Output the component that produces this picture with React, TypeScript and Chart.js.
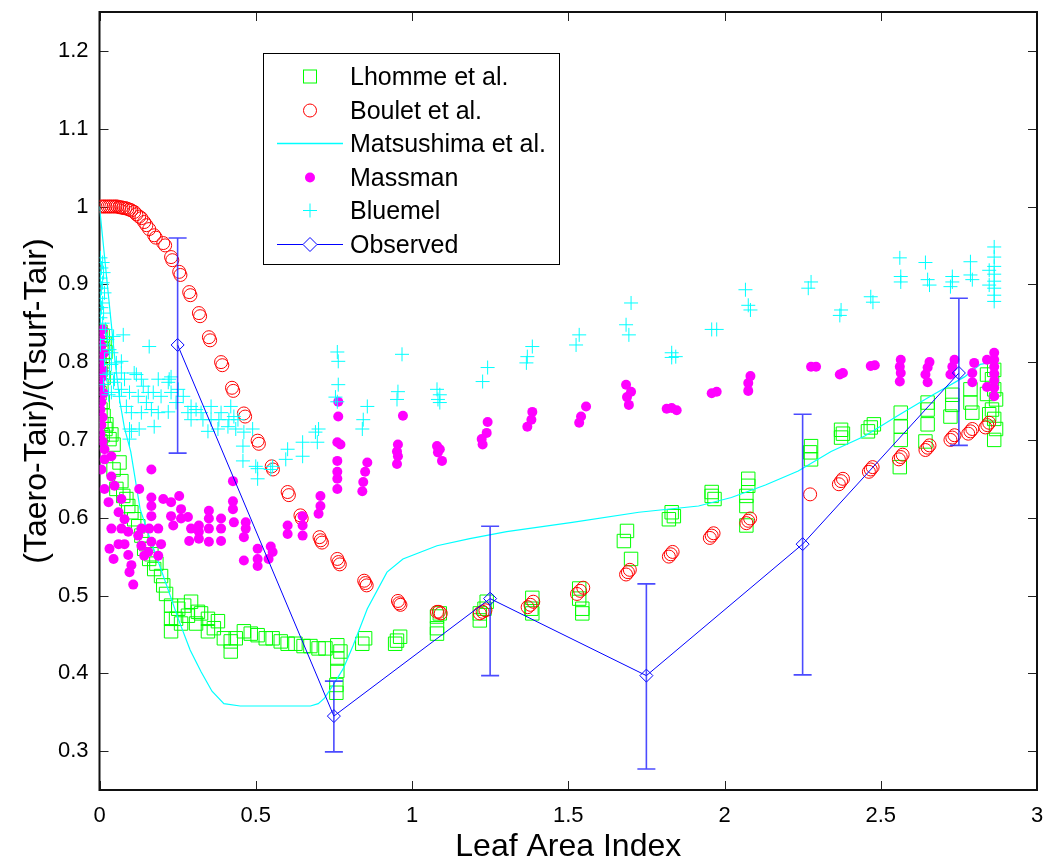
import React, { useEffect, useRef } from "react";
import { Chart, registerables } from "chart.js";

Chart.register(...registerables);

const FONT = "'Liberation Sans', Arial, Helvetica, sans-serif";
const GREEN = "#00ff00";
const RED = "#ff0000";
const CYAN = "#00ffff";
const MAGENTA = "#ff00ff";
const BLUE = "#0000ff";
const ERR_BLUE = "rgba(30,30,255,0.8)";

const xTicks = [0, 0.5, 1, 1.5, 2, 2.5, 3];
const yTicks = [0.3, 0.4, 0.5, 0.6, 0.7, 0.8, 0.9, 1.0, 1.1, 1.2];

type P = [number, number];

const lhomme: P[] = [
  [0.003,0.839],[0.010,0.834],[0.003,0.829],[0.016,0.824],[0.006,0.818],[0.019,0.813],[0.000,0.808],[0.010,0.801],
  [0.003,0.790],[0.013,0.780],[0.006,0.770],[0.000,0.760],[0.010,0.749],[0.003,0.739],[0.013,0.731],[0.006,0.721],
  [0.019,0.714],[0.010,0.706],[0.003,0.698],[0.022,0.720],[0.038,0.707],[0.045,0.694],[0.032,0.701],[0.064,0.671],
  [0.045,0.662],[0.070,0.647],[0.054,0.637],[0.076,0.628],[0.086,0.624],[0.092,0.615],[0.102,0.607],[0.111,0.598],
  [0.124,0.589],[0.134,0.577],[0.143,0.560],[0.150,0.566],[0.159,0.547],[0.166,0.553],[0.175,0.534],[0.182,0.541],
  [0.197,0.525],[0.204,0.513],[0.213,0.502],[0.229,0.487],[0.229,0.470],[0.229,0.454],[0.245,0.470],[0.252,0.483],
  [0.261,0.464],[0.271,0.487],[0.283,0.474],[0.293,0.492],[0.309,0.464],[0.315,0.479],[0.325,0.477],[0.347,0.470],
  [0.347,0.454],[0.366,0.458],[0.379,0.467],[0.398,0.445],[0.420,0.441],[0.420,0.428],[0.436,0.445],[0.462,0.454],
  [0.484,0.451],[0.506,0.449],[0.532,0.445],[0.554,0.445],[0.580,0.441],[0.602,0.438],[0.627,0.438],[0.653,0.435],
  [0.675,0.435],[0.701,0.432],[0.723,0.432],[0.761,0.436],[0.761,0.419],[0.761,0.403],[0.758,0.385],[0.758,0.375],
  [0.771,0.428],[0.850,0.445],[0.841,0.438],[0.952,0.442],[0.962,0.447],[0.946,0.438],[1.080,0.473],[1.080,0.458],
  [1.080,0.451],[1.089,0.477],[1.217,0.477],[1.217,0.468],[1.239,0.492],[1.232,0.483],[1.385,0.497],[1.382,0.483],
  [1.385,0.477],[1.535,0.509],[1.535,0.496],[1.545,0.483],[1.545,0.477],[1.688,0.583],[1.678,0.570],[1.701,0.547],
  [1.831,0.607],[1.838,0.602],[1.822,0.598],[1.959,0.628],[1.959,0.633],[1.968,0.624],[2.076,0.650],[2.076,0.641],
  [2.070,0.628],[2.070,0.615],[2.070,0.590],[2.274,0.684],[2.277,0.675],[2.277,0.692],[2.373,0.703],[2.373,0.713],
  [2.379,0.708],[2.468,0.716],[2.459,0.711],[2.478,0.720],[2.564,0.735],[2.564,0.717],[2.564,0.700],[2.561,0.665],
  [2.650,0.748],[2.650,0.739],[2.650,0.720],[2.643,0.698],[2.729,0.758],[2.729,0.745],[2.723,0.730],[2.787,0.765],
  [2.787,0.748],[2.793,0.735],[2.863,0.790],[2.856,0.778],[2.863,0.765],[2.869,0.752],[2.856,0.739],[2.863,0.727],
  [2.869,0.714],[2.863,0.700],[2.840,0.784],[2.840,0.759],[2.847,0.733],
];

const boulet: P[] = [
  [0.006,1.0],[0.013,1.0],[0.019,1.0],[0.026,1.0],[0.032,1.0],[0.038,1.0],[0.045,1.0],[0.051,1.0],[0.057,1.0],
  [0.064,0.999],[0.070,0.999],[0.076,0.998],[0.083,0.998],[0.089,0.997],[0.096,0.996],[0.102,0.995],[0.111,0.993],
  [0.118,0.990],[0.127,0.987],[0.134,0.985],[0.143,0.980],[0.150,0.976],[0.159,0.971],[0.175,0.963],[0.180,0.960],
  [0.204,0.953],[0.210,0.950],[0.229,0.935],[0.233,0.931],[0.255,0.916],[0.259,0.912],[0.287,0.890],[0.291,0.886],
  [0.318,0.863],[0.322,0.859],[0.350,0.832],[0.354,0.828],[0.389,0.800],[0.393,0.796],[0.424,0.767],[0.428,0.763],
  [0.462,0.734],[0.466,0.730],[0.506,0.699],[0.510,0.695],[0.551,0.666],[0.555,0.662],[0.602,0.633],[0.606,0.629],
  [0.643,0.603],[0.647,0.599],[0.704,0.575],[0.708,0.571],[0.712,0.568],[0.761,0.547],[0.765,0.543],[0.769,0.540],
  [0.847,0.519],[0.851,0.516],[0.855,0.513],[0.955,0.493],[0.959,0.490],[0.963,0.488],[1.080,0.479],[1.086,0.479],
  [1.092,0.477],[1.217,0.477],[1.226,0.479],[1.235,0.481],[1.370,0.485],[1.379,0.488],[1.388,0.492],[1.528,0.502],
  [1.538,0.506],[1.548,0.510],[1.685,0.527],[1.691,0.530],[1.697,0.533],[1.822,0.550],[1.828,0.553],[1.834,0.556],
  [1.953,0.574],[1.959,0.577],[1.965,0.580],[2.070,0.593],[2.076,0.596],[2.082,0.599],[2.274,0.630],[2.366,0.643],
  [2.373,0.647],[2.379,0.650],[2.462,0.659],[2.468,0.662],[2.474,0.665],[2.558,0.675],[2.564,0.678],[2.570,0.681],
  [2.643,0.687],[2.650,0.690],[2.656,0.693],[2.723,0.700],[2.729,0.703],[2.736,0.706],[2.780,0.708],[2.787,0.711],
  [2.793,0.714],[2.835,0.716],[2.841,0.719],[2.847,0.722],
];

const matsushima: P[] = [
  [0,1.0],[0.01,0.96],[0.02,0.92],[0.035,0.86],[0.05,0.80],[0.065,0.75],[0.08,0.715],[0.10,0.685],[0.13,0.611],
  [0.16,0.575],[0.185,0.547],[0.22,0.507],[0.252,0.470],[0.29,0.43],[0.325,0.402],[0.36,0.377],[0.398,0.361],
  [0.45,0.358],[0.55,0.358],[0.675,0.358],[0.70,0.361],[0.72,0.368],[0.748,0.385],[0.78,0.406],[0.812,0.436],
  [0.857,0.483],[0.92,0.53],[0.971,0.547],[1.08,0.564],[1.185,0.573],[1.303,0.582],[1.513,0.594],[1.726,0.607],
  [1.917,0.615],[2.022,0.626],[2.131,0.642],[2.236,0.66],[2.341,0.685],[2.449,0.705],[2.554,0.731],[2.659,0.756],
  [2.768,0.781],[2.818,0.797],[2.86,0.80],
];

const massman: P[] = [
  [0.010,0.842],[0.003,0.831],[0.006,0.821],[0.013,0.811],[0.003,0.801],[0.010,0.790],[0.006,0.780],[0.003,0.770],
  [0.013,0.760],[0.006,0.749],[0.003,0.739],[0.010,0.729],[0.006,0.719],[0.003,0.708],[0.010,0.698],[0.016,0.688],
  [0.016,0.675],[0.038,0.679],[0.006,0.662],[0.038,0.653],[0.016,0.637],[0.048,0.641],[0.029,0.620],[0.070,0.624],
  [0.061,0.607],[0.080,0.598],[0.038,0.586],[0.070,0.586],[0.092,0.582],[0.032,0.560],[0.061,0.566],[0.080,0.566],
  [0.045,0.547],[0.092,0.552],[0.102,0.539],[0.096,0.530],[0.108,0.514],[0.124,0.577],[0.134,0.564],[0.143,0.551],
  [0.134,0.586],[0.166,0.662],[0.166,0.626],[0.166,0.615],[0.166,0.602],[0.159,0.586],[0.166,0.569],[0.156,0.556],
  [0.127,0.637],[0.188,0.586],[0.197,0.566],[0.188,0.551],[0.204,0.624],[0.229,0.620],[0.229,0.602],[0.236,0.590],
  [0.255,0.628],[0.261,0.611],[0.261,0.599],[0.283,0.601],[0.293,0.586],[0.287,0.570],[0.318,0.590],[0.318,0.582],
  [0.318,0.573],[0.350,0.609],[0.350,0.599],[0.350,0.586],[0.350,0.569],[0.389,0.599],[0.389,0.586],[0.389,0.570],
  [0.427,0.647],[0.427,0.621],[0.427,0.611],[0.430,0.594],[0.468,0.594],[0.468,0.586],[0.462,0.575],[0.462,0.545],
  [0.506,0.560],[0.506,0.547],[0.506,0.538],[0.548,0.563],[0.554,0.556],[0.541,0.547],[0.602,0.590],[0.602,0.579],
  [0.650,0.602],[0.650,0.590],[0.650,0.577],[0.707,0.628],[0.707,0.615],[0.701,0.605],[0.761,0.697],[0.761,0.673],
  [0.761,0.659],[0.761,0.650],[0.761,0.637],[0.764,0.749],[0.764,0.730],[0.771,0.694],[0.857,0.671],[0.850,0.659],
  [0.844,0.646],[0.841,0.634],[0.971,0.731],[0.955,0.694],[0.952,0.685],[0.955,0.679],[0.952,0.669],[1.080,0.692],
  [1.083,0.684],[1.096,0.673],[1.089,0.688],[1.242,0.723],[1.239,0.709],[1.223,0.701],[1.226,0.694],[1.385,0.736],
  [1.382,0.726],[1.369,0.717],[1.557,0.743],[1.541,0.730],[1.535,0.722],[1.685,0.771],[1.701,0.762],[1.688,0.755],
  [1.694,0.745],[1.831,0.741],[1.847,0.738],[1.815,0.740],[1.959,0.760],[1.975,0.762],[2.083,0.782],[2.076,0.773],
  [2.076,0.763],[2.277,0.794],[2.293,0.794],[2.379,0.786],[2.369,0.784],[2.468,0.795],[2.481,0.796],[2.564,0.803],
  [2.561,0.794],[2.564,0.786],[2.561,0.775],[2.656,0.800],[2.650,0.793],[2.643,0.784],[2.650,0.774],[2.736,0.803],
  [2.729,0.794],[2.723,0.784],[2.799,0.799],[2.793,0.786],[2.793,0.774],[2.840,0.803],[2.863,0.812],[2.863,0.803],
  [2.863,0.794],[2.863,0.785],[2.863,0.776],[2.863,0.767],[2.863,0.756],[2.840,0.768],
];

const bluemel: P[] = [
  [0.003,0.934],[0.010,0.928],[0.006,0.921],[0.013,0.915],[0.003,0.908],[0.010,0.902],[0.006,0.895],[0.016,0.889],
  [0.003,0.882],[0.010,0.876],[0.006,0.870],[0.013,0.863],[0.003,0.857],[0.010,0.850],[0.019,0.842],[0.025,0.829],
  [0.032,0.816],[0.003,0.822],[0.016,0.803],[0.038,0.797],[0.022,0.784],[0.013,0.771],[0.029,0.758],[0.045,0.833],
  [0.076,0.835],[0.038,0.812],[0.070,0.801],[0.032,0.786],[0.048,0.778],[0.080,0.778],[0.038,0.761],[0.064,0.756],
  [0.096,0.761],[0.111,0.786],[0.134,0.778],[0.159,0.820],[0.124,0.756],[0.156,0.761],[0.188,0.778],[0.197,0.756],
  [0.223,0.778],[0.229,0.761],[0.245,0.748],[0.166,0.739],[0.134,0.735],[0.102,0.735],[0.096,0.714],[0.127,0.714],
  [0.293,0.743],[0.293,0.726],[0.325,0.735],[0.357,0.726],[0.389,0.735],[0.411,0.717],[0.443,0.726],[0.462,0.710],
  [0.054,0.799],[0.070,0.786],[0.118,0.784],[0.045,0.774],[0.070,0.765],[0.140,0.769],[0.172,0.761],[0.220,0.774],
  [0.229,0.781],[0.252,0.765],[0.268,0.756],[0.086,0.743],[0.150,0.748],[0.188,0.735],[0.175,0.717],[0.102,0.711],
  [0.096,0.701],[0.220,0.736],[0.283,0.735],[0.309,0.739],[0.331,0.726],[0.357,0.743],[0.382,0.726],[0.420,0.743],
  [0.414,0.726],[0.436,0.714],[0.379,0.714],[0.347,0.711],[0.459,0.692],[0.490,0.714],[0.459,0.673],[0.500,0.666],
  [0.554,0.666],[0.602,0.688],[0.596,0.675],[0.650,0.697],[0.650,0.679],[0.691,0.710],[0.697,0.697],[0.430,0.730],
  [0.506,0.663],[0.506,0.650],[0.548,0.662],[0.701,0.714],[0.761,0.813],[0.764,0.801],[0.764,0.771],[0.755,0.755],
  [0.761,0.749],[0.857,0.743],[0.844,0.726],[0.841,0.714],[0.968,0.810],[0.955,0.762],[0.952,0.752],[1.080,0.765],
  [1.083,0.752],[1.089,0.758],[1.089,0.748],[1.242,0.793],[1.226,0.775],[1.385,0.820],[1.369,0.807],[1.366,0.799],
  [1.535,0.835],[1.525,0.822],[1.685,0.848],[1.694,0.835],[1.701,0.876],[1.831,0.812],[1.831,0.806],[1.844,0.807],
  [1.959,0.842],[1.975,0.842],[2.067,0.893],[2.076,0.873],[2.083,0.867],[2.277,0.903],[2.268,0.895],[2.373,0.867],
  [2.369,0.860],[2.468,0.884],[2.475,0.877],[2.561,0.934],[2.564,0.910],[2.564,0.903],[2.643,0.928],[2.650,0.906],
  [2.656,0.899],[2.729,0.910],[2.729,0.903],[2.723,0.897],[2.787,0.929],[2.787,0.912],[2.793,0.906],[2.863,0.948],
  [2.863,0.935],[2.863,0.923],[2.863,0.913],[2.863,0.904],[2.863,0.895],[2.863,0.886],[2.863,0.878],[2.847,0.918],
  [2.847,0.899],
];

const obsLAI = [0.25, 0.75, 1.25, 1.75, 2.25, 2.75];
const obsMean = [0.822, 0.345, 0.496, 0.397, 0.566, 0.786];
const obsLow = [0.683, 0.299, 0.397, 0.277, 0.398, 0.693];
const obsHigh = [0.9595, 0.390, 0.589, 0.515, 0.733, 0.882];

const legendLabels = ["Lhomme et al.", "Boulet et al.", "Matsushima et al.", "Massman", "Bluemel", "Observed"];

const toPts = (a: P[]) => a.map(([x, y]) => ({ x, y }));
const fmt = (v: number) => String(Math.round(v * 10) / 10);

const framePlugin = {
  id: "frame",
  beforeDatasetsDraw(chart: any) {
    const { ctx, chartArea: a, scales } = chart;
    ctx.save();
    ctx.strokeStyle = "#222";
    ctx.lineWidth = 1;
    const L = 9;
    ctx.beginPath();
    xTicks.forEach((v) => {
      const px = Math.round(scales.x.getPixelForValue(v)) + 0.5;
      ctx.moveTo(px, a.bottom); ctx.lineTo(px, a.bottom - L);
      ctx.moveTo(px, a.top); ctx.lineTo(px, a.top + L);
    });
    yTicks.forEach((v) => {
      const py = Math.round(scales.y.getPixelForValue(v)) + 0.5;
      ctx.moveTo(a.left, py); ctx.lineTo(a.left + L, py);
      ctx.moveTo(a.right, py); ctx.lineTo(a.right - L, py);
    });
    ctx.stroke();
    ctx.lineWidth = 2;
    ctx.strokeStyle = "#111";
    ctx.strokeRect(a.left, a.top, a.right - a.left, a.bottom - a.top);
    ctx.restore();
  },
};

const errorPlugin = {
  id: "errbars",
  afterDatasetsDraw(chart: any) {
    const { ctx, scales } = chart;
    ctx.save();
    ctx.strokeStyle = ERR_BLUE;
    ctx.lineWidth = 1.6;
    ctx.beginPath();
    obsLAI.forEach((x, i) => {
      const px = scales.x.getPixelForValue(x);
      const pl = scales.y.getPixelForValue(obsLow[i]);
      const ph = scales.y.getPixelForValue(obsHigh[i]);
      ctx.moveTo(px, pl); ctx.lineTo(px, ph);
      ctx.moveTo(px - 9, pl); ctx.lineTo(px + 9, pl);
      ctx.moveTo(px - 9, ph); ctx.lineTo(px + 9, ph);
    });
    ctx.stroke();
    ctx.restore();
  },
};

const legendPlugin = {
  id: "mlegend",
  afterDraw(chart: any) {
    const { ctx } = chart;
    ctx.save();
    const bx = 263.5, by = 53.5, bw = 296, bh = 211;
    ctx.fillStyle = "#fff";
    ctx.fillRect(bx, by, bw, bh);
    ctx.strokeStyle = "#000";
    ctx.lineWidth = 1;
    ctx.strokeRect(bx, by, bw, bh);
    const sx = 310;
    const textX = 350;
    ctx.font = `25px ${FONT}`;
    ctx.textBaseline = "alphabetic";
    ctx.textAlign = "left";
    legendLabels.forEach((lab, i) => {
      const base = 85 + i * 33.6;
      const cy = Math.round(base - 9) + 0.5;
      ctx.fillStyle = "#000";
      ctx.fillText(lab, textX, base);
      ctx.lineWidth = 1;
      if (i === 0) {
        ctx.strokeStyle = GREEN;
        ctx.strokeRect(sx - 6.5, cy - 6.5, 13, 13);
      } else if (i === 1) {
        ctx.strokeStyle = RED;
        ctx.beginPath(); ctx.arc(sx, cy, 6.5, 0, Math.PI * 2); ctx.stroke();
      } else if (i === 2) {
        ctx.strokeStyle = CYAN;
        ctx.lineWidth = 1.5;
        ctx.beginPath(); ctx.moveTo(277, cy); ctx.lineTo(343, cy); ctx.stroke();
      } else if (i === 3) {
        ctx.fillStyle = MAGENTA;
        ctx.beginPath(); ctx.arc(sx, cy, 5, 0, Math.PI * 2); ctx.fill();
      } else if (i === 4) {
        ctx.strokeStyle = CYAN;
        ctx.beginPath();
        ctx.moveTo(sx - 7, cy); ctx.lineTo(sx + 7, cy);
        ctx.moveTo(sx, cy - 7); ctx.lineTo(sx, cy + 7);
        ctx.stroke();
      } else {
        ctx.strokeStyle = BLUE;
        ctx.beginPath(); ctx.moveTo(277, cy); ctx.lineTo(303, cy); ctx.moveTo(317, cy); ctx.lineTo(343, cy); ctx.stroke();
        ctx.beginPath();
        ctx.moveTo(sx - 7, cy); ctx.lineTo(sx, cy - 7); ctx.lineTo(sx + 7, cy); ctx.lineTo(sx, cy + 7); ctx.closePath();
        ctx.stroke();
      }
    });
    ctx.restore();
  },
};

export default function App() {
  const ref = useRef<HTMLCanvasElement | null>(null);
  useEffect(() => {
    if (!ref.current) return;
    const chart = new Chart(ref.current, {
      type: "scatter",
      data: {
        datasets: [
          {
            label: "Observed",
            data: obsLAI.map((x, i) => ({ x, y: obsMean[i] })),
            showLine: true,
            borderColor: BLUE,
            borderWidth: 1,
            pointStyle: "rectRot",
            pointRadius: 6.5,
            pointBorderColor: BLUE,
            pointBackgroundColor: "rgba(0,0,0,0)",
            pointBorderWidth: 1,
            order: 0,
          },
          {
            label: "Bluemel",
            data: toPts(bluemel),
            pointStyle: "cross",
            pointRadius: 7,
            pointBorderColor: CYAN,
            pointBorderWidth: 1,
            order: 1,
          },
          {
            label: "Massman",
            data: toPts(massman),
            pointStyle: "circle",
            pointRadius: 5,
            pointBackgroundColor: MAGENTA,
            pointBorderColor: MAGENTA,
            pointBorderWidth: 0,
            order: 2,
          },
          {
            label: "Matsushima et al.",
            data: toPts(matsushima),
            showLine: true,
            borderColor: CYAN,
            borderWidth: 1.2,
            pointRadius: 0,
            order: 3,
          },
          {
            label: "Boulet et al.",
            data: toPts(boulet),
            pointStyle: "circle",
            pointRadius: 6.5,
            pointBorderColor: RED,
            pointBackgroundColor: "rgba(0,0,0,0)",
            pointBorderWidth: 1,
            order: 4,
          },
          {
            label: "Lhomme et al.",
            data: toPts(lhomme),
            pointStyle: "rect",
            pointRadius: 9.5,
            pointBorderColor: GREEN,
            pointBackgroundColor: "rgba(0,0,0,0)",
            pointBorderWidth: 1,
            order: 5,
          },
        ],
      },
      options: {
        responsive: false,
        animation: false,
        devicePixelRatio: 1,
        layout: { padding: { left: 0, top: 12, right: 11, bottom: 0 } },
        plugins: { legend: { display: false }, tooltip: { enabled: false } },
        scales: {
          x: {
            type: "linear",
            min: 0,
            max: 3,
            afterBuildTicks: (s: any) => { s.ticks = xTicks.map((v) => ({ value: v })); },
            afterFit: (s: any) => {
              s.height = 76;
              s.paddingLeft = 0;
              s.paddingRight = 0;
            },
            grid: { display: false, drawTicks: false },
            border: { display: false },
            ticks: {
              padding: 13,
              color: "#000",
              font: { family: FONT, size: 22 },
              maxRotation: 0,
              autoSkip: false,
              callback: (v: any) => fmt(Number(v)),
            },
            title: {
              display: true,
              text: "Leaf Area Index",
              color: "#000",
              font: { family: FONT, size: 32, lineHeight: 1 },
              padding: { top: 0, bottom: 3 },
            },
          },
          y: {
            type: "linear",
            min: 0.25,
            max: 1.25,
            afterBuildTicks: (s: any) => { s.ticks = yTicks.map((v) => ({ value: v })); },
            afterFit: (s: any) => {
              s.width = 99.5;
              s.paddingTop = 0;
              s.paddingBottom = 0;
            },
            grid: { display: false, drawTicks: false },
            border: { display: false },
            ticks: {
              padding: 11,
              color: "#000",
              font: { family: FONT, size: 22 },
              autoSkip: false,
              callback: (v: any) => fmt(Number(v)),
            },
            title: {
              display: true,
              text: "(Taero-Tair)/(Tsurf-Tair)",
              color: "#000",
              font: { family: FONT, size: 32, lineHeight: 1 },
              padding: { top: 21, bottom: 0 },
            },
          },
        },
      },
      plugins: [framePlugin, errorPlugin, legendPlugin],
    });
    return () => chart.destroy();
  }, []);
  return (
    <div style={{ position: "absolute", left: 0, top: 0, width: 1048, height: 866 }}>
      <canvas ref={ref} width={1048} height={866} />
    </div>
  );
}
